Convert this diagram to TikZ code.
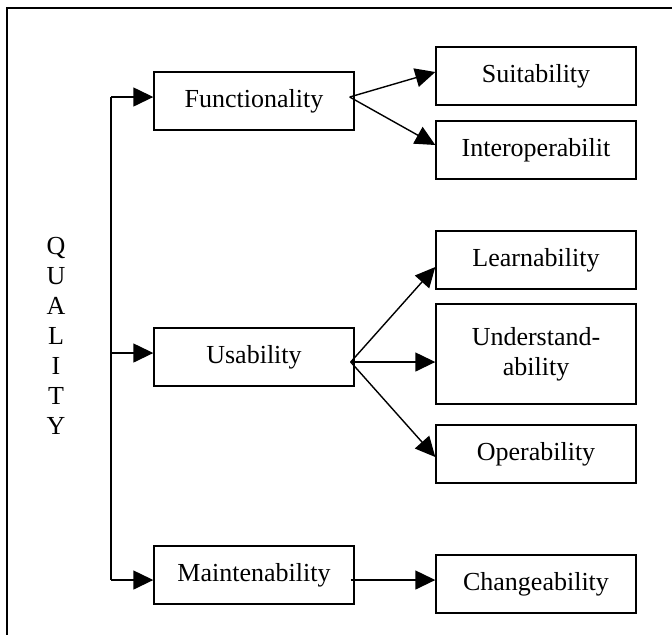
\documentclass[tikz,border=0pt]{standalone}
\usepackage{fontspec}
\setmainfont{Liberation Serif}
\usetikzlibrary{arrows.meta,calc}
\tikzset{
    qbox/.style = {draw, line width=0.7pt, minimum width=100pt, minimum height=29pt,
        inner sep=2pt, align=center, font=\fontsize{13}{15}\selectfont},
    qarrow/.style = {-{Triangle[length=10pt,width=9.5pt]}, line width=0.7pt}
}

\begin{document}
\begin{tikzpicture}[x=0.5pt,y=-0.5pt]
    \path[use as bounding box] (0,0) rectangle (672,634);
    \begin{scope}
        \clip (0,0) rectangle (672,634);
        \draw[line width=0.8pt] (7,8) rectangle (700,670);
    \end{scope}

    \node[align=center, font=\fontsize{13}{15}\selectfont] (quality) at (56,336) {Q\\U\\A\\L\\I\\T\\Y};

    \node[qbox] (func) at (254,101) {Functionality};
    \node[qbox] (usab) at (254,357) {Usability};
    \node[qbox] (maint) at (254,575) {Maintenability};

    \node[qbox] (suit) at (536,76) {Suitability};
    \node[qbox] (inter) at (536,150) {Interoperabilit};
    \node[qbox] (learn) at (536,260) {Learnability};
    \node[qbox, minimum height=50pt] (under) at (536,354) {Understand-\\ability};
    \node[qbox] (oper) at (536,454) {Operability};
    \node[qbox] (change) at (536,584) {Changeability};

    \coordinate (tF) at (111,97);
    \coordinate (tU) at (111,353);
    \coordinate (tM) at (111,580);
    \draw[line width=0.7pt] (tF) -- (tM);
    \draw[qarrow] (tF) -- (tF -| func.west);
    \draw[qarrow] (tU) -- (tU -| usab.west);
    \draw[qarrow] (tM) -- (tM -| maint.west);

    \coordinate (Fo) at ($(func.east)+(-5,-4)$);
    \draw[qarrow] (Fo) -- ($(suit.west)+(0,-4)$);
    \draw[qarrow] (Fo) -- ($(inter.west)+(0,-5)$);

    \coordinate (Uo) at ($(usab.east)+(-4,5)$);
    \draw[qarrow] (Uo) -- ($(learn.west)+(0,7)$);
    \draw[qarrow] (Uo) -- ($(under.west)+(0,8)$);
    \draw[qarrow] (Uo) -- ($(oper.west)+(0,3)$);

    \coordinate (Mo) at ($(maint.east)+(-4,5)$);
    \draw[qarrow] (Mo) -- (Mo -| change.west);
\end{tikzpicture}
\end{document}
